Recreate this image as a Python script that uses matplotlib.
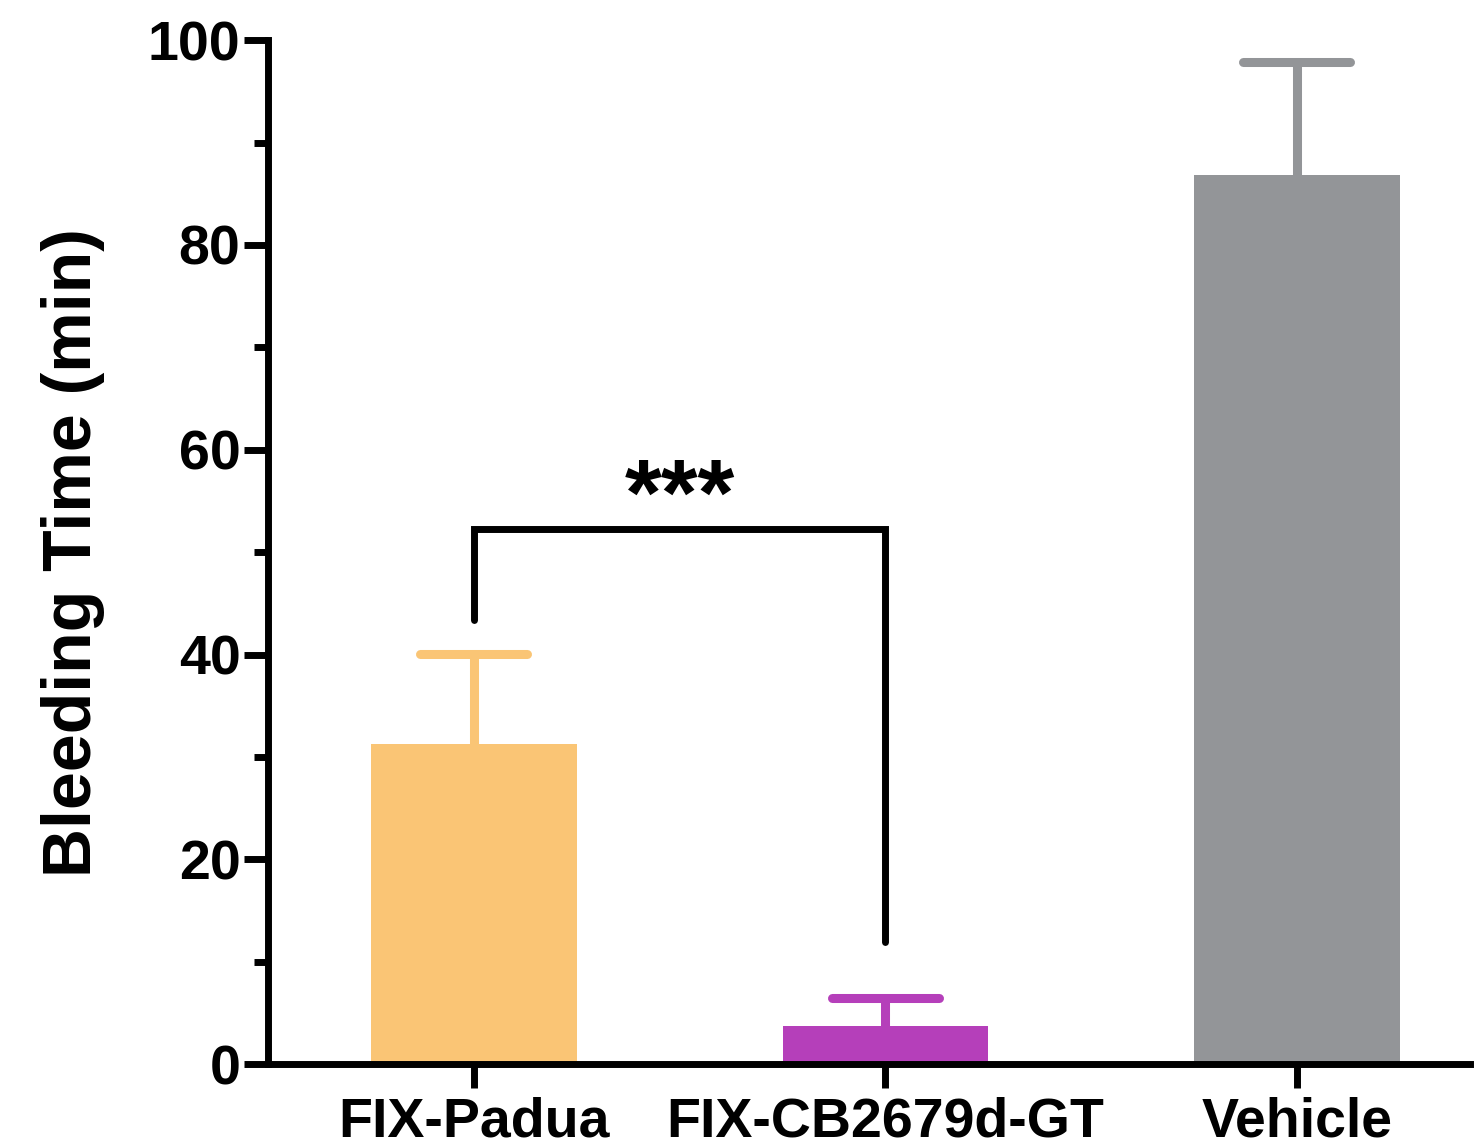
import matplotlib
matplotlib.use("Agg")
import matplotlib.pyplot as plt

plt.rcParams['font.family'] = ['Liberation Sans', 'DejaVu Sans']
plt.rcParams['font.weight'] = 'bold'

groups = ['FIX-Padua', 'FIX-CB2679d-GT', 'Vehicle']
means = [31.3, 3.7, 86.8]
sem = [8.8, 2.8, 11.1]
colors = ['#FAC575', '#B53FBA', '#939598']

# significance bracket between group 0 and group 1
bracket_y = [43.4, 52.3, 52.3, 11.9]
stars = '***'
stars_y = 50.7

fig = plt.figure(figsize=(14.74, 11.48), dpi=100)
ax = fig.add_axes([0.182, 0.073, 0.815, 0.892])

x = list(range(len(groups)))
ax.bar(x, means, width=0.5, color=colors, zorder=2)

# upper-only error bars with rounded caps
tops = [m + s for m, s in zip(means, sem)]
ax.vlines(x, means, tops, colors=colors, linewidth=6.5, zorder=1)
ax.hlines(tops, [i - 0.13 for i in x], [i + 0.13 for i in x], colors=colors,
          linewidth=6.5, capstyle='round', zorder=2)

ax.plot([0, 0, 1, 1], bracket_y, color='black', linewidth=5,
        solid_capstyle='round', solid_joinstyle='miter')
ax.text(0.5, stars_y, stars, ha='center', va='bottom', fontsize=68,
        fontweight='bold')

ax.set_xlim(-0.5, 2.42)
ax.set_ylim(0, 100)
ax.set_xticks(x)
ax.set_xticklabels(groups)
ax.set_yticks([0, 20, 40, 60, 80, 100])
ax.set_yticks([10, 30, 50, 70, 90], minor=True)
ax.set_ylabel('Bleeding Time (min)', fontsize=49, fontweight='bold', labelpad=31)

for side in ['top', 'right']:
    ax.spines[side].set_visible(False)
for side in ['left', 'bottom']:
    ax.spines[side].set_linewidth(5)

ax.tick_params(axis='both', which='major', length=17, width=5, labelsize=40, pad=3)
ax.tick_params(axis='y', which='minor', length=10, width=5)
ax.tick_params(axis='x', pad=6)
for lab in ax.get_xticklabels() + ax.get_yticklabels():
    lab.set_fontweight('bold')

fig.savefig('out.png', dpi=100)
